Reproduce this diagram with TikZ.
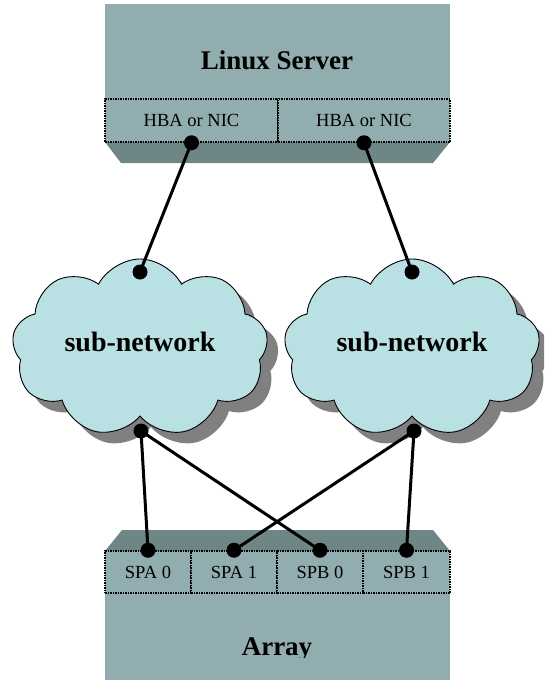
\documentclass[tikz,border=0pt]{standalone}
\usepackage{fontspec}
\setmainfont{Liberation Serif}
\definecolor{boxface}{HTML}{92ADB0}
\definecolor{boxside}{HTML}{6F8686}
\definecolor{cloudbg}{HTML}{B9E0E3}
\definecolor{shadowgray}{HTML}{808080}
\usetikzlibrary{shapes.symbols, shadows, positioning, calc}

\tikzset{
  portcell/.style={draw=black, densely dotted, line width=1.5pt, fill=boxface,
                   inner sep=0pt, font=\fontsize{18.5}{20}\selectfont},
  netcloud/.style={cloud, cloud puffs=9, cloud puff arc=125, cloud ignores aspect,
                   draw=black, line width=0.9pt, fill=cloudbg,
                   minimum width=256pt, minimum height=178pt, text depth=12pt,
                   drop shadow={shadow xshift=11pt, shadow yshift=-11pt,
                                fill=shadowgray, opacity=1},
                   font=\fontsize{28}{30}\selectfont\bfseries},
  portdot/.style={circle, fill=black, inner sep=0pt, minimum size=15pt},
  link/.style={line width=3pt, black}
}

\begin{document}
\begin{tikzpicture}[x=1pt, y=-1pt]
    \useasboundingbox (0,0) rectangle (544,680);
    \clip (0,0) rectangle (544,680);

    % server
    \fill[boxface] (105,4) rectangle (450,99);
    \node[font=\fontsize{27}{30}\selectfont\bfseries] (server) at (277,60) {Linux Server};
    \fill[boxside] (105,142) -- (450,142) -- (433,163) -- (121,163) -- cycle;
    \node[portcell, minimum width=173pt, minimum height=43pt] (hba1) at (191.5,120.5) {HBA or NIC};
    \node[portcell, minimum width=172pt, minimum height=43pt] (hba2) at (364,120.5) {HBA or NIC};

    % networks
    \node[netcloud] (net1) at (140,348) {sub-network};
    \node[netcloud] (net2) at (412,348) {sub-network};

    % array
    \fill[boxside] (122,530) -- (433,530) -- (450,551) -- (105,551) -- cycle;
    \fill[boxface] (105,593) rectangle (450,680);
    \node[portcell, minimum width=86pt, minimum height=42pt] (spa0) at (148,572) {SPA 0};
    \node[portcell, minimum width=86pt, minimum height=42pt] (spa1) at (234,572) {SPA 1};
    \node[portcell, minimum width=86pt, minimum height=42pt] (spb0) at (320,572) {SPB 0};
    \node[portcell, minimum width=87pt, minimum height=42pt] (spb1) at (406.5,572) {SPB 1};
    \begin{scope}
      \clip (105,593) rectangle (450,657);
      \node[font=\fontsize{27}{30}\selectfont\bfseries] (array) at (277,649) {Array};
    \end{scope}

    % connection points
    \node[portdot] (h1) at (hba1.south) {};
    \node[portdot] (h2) at (hba2.south) {};
    \node[portdot] (n1in) at (140,272) {};
    \node[portdot] (n2in) at (412,272) {};
    \node[portdot] (n1out) at (141,431) {};
    \node[portdot] (n2out) at (414,431) {};
    \node[portdot] (p1) at (spa0.north) {};
    \node[portdot] (p2) at (spa1.north) {};
    \node[portdot] (p3) at (spb0.north) {};
    \node[portdot] (p4) at (spb1.north) {};

    \draw[link] (h1.center) -- (n1in.center);
    \draw[link] (h2.center) -- (n2in.center);
    \draw[link] (n1out.center) -- (p1.center);
    \draw[link] (n1out.center) -- (p3.center);
    \draw[link] (n2out.center) -- (p2.center);
    \draw[link] (n2out.center) -- (p4.center);
\end{tikzpicture}
\end{document}
